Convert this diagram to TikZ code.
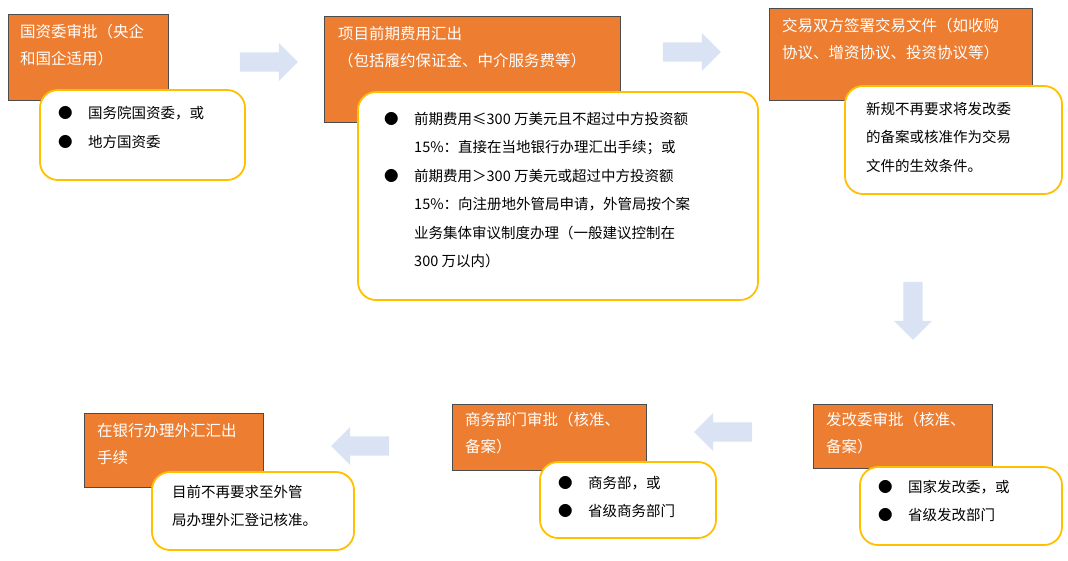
\documentclass[tikz,border=0pt]{standalone}
\usepackage{fontspec}
\setmainfont{Noto Sans CJK SC}
\usetikzlibrary{shapes.arrows}
\definecolor{org}{HTML}{ED7D31}
\definecolor{ylw}{HTML}{FFC000}
\definecolor{arw}{HTML}{DAE3F3}
\begin{document}
\begin{tikzpicture}[x=1pt,y=-1pt,
 obox/.style={draw=black!70,line width=0.6pt,fill=org},
 ybox/.style={draw=ylw,line width=1.8pt,rounded corners=18pt,fill=white},
 otext/.style={anchor=north west,text=white,font=\fontsize{15.5}{27}\selectfont,align=left,inner sep=0},
 ytext/.style={anchor=north west,font=\fontsize{14.5}{28.5}\selectfont,align=left,inner sep=0},
 barrow/.style={single arrow,fill=arw,draw=none,minimum height=58pt,minimum width=38pt,single arrow head extend=5pt,inner sep=5pt}]
\useasboundingbox (0,0) rectangle (1068,560);
\newcommand{\bl}{\makebox[30pt][l]{●}}
% box 1
\draw[obox] (8,14) rectangle (168,100);
\node[otext] (t1) at (20,24) {国资委审批（央企\\和国企适用）};
\draw[ybox] (40,90) rectangle (245,180);
\node[ytext] (y1) at (58,106) {\bl 国务院国资委，或\\\bl 地方国资委};
% box 2
\draw[obox] (324,16) rectangle (620,122);
\node[otext] (t2) at (338,26) {项目前期费用汇出\\（包括履约保证金、中介服务费等）};
\draw[ybox] (358,92) rectangle (758,300);
\node[ytext] (y2) at (384,112) {\bl 前期费用≤300 万美元且不超过中方投资额\\\hspace{30pt}15\%：直接在当地银行办理汇出手续；或\\\bl 前期费用＞300 万美元或超过中方投资额\\\hspace{30pt}15\%：向注册地外管局申请，外管局按个案\\\hspace{30pt}业务集体审议制度办理（一般建议控制在\\\hspace{30pt}300 万以内）};
% box 3
\draw[obox] (769,8) rectangle (1032,100);
\node[otext] (t3) at (782,18) {交易双方签署交易文件（如收购\\协议、增资协议、投资协议等）};
\draw[ybox] (845,86) rectangle (1062,194);
\node[ytext] (y3) at (866,102) {新规不再要求将发改委\\的备案或核准作为交易\\文件的生效条件。};
% box 4
\draw[obox] (813,404) rectangle (992,468);
\node[otext] (t4) at (826,412) {发改委审批（核准、\\备案）};
\draw[ybox] (860,467) rectangle (1062,545);
\node[ytext] (y4) at (878,480) {\bl 国家发改委，或\\\bl 省级发改部门};
% box 5
\draw[obox] (452,404) rectangle (646,470);
\node[otext] (t5) at (465,412) {商务部门审批（核准、\\备案）};
\draw[ybox] (540,462) rectangle (716,538);
\node[ytext] (y5) at (558,476) {\bl 商务部，或\\\bl 省级商务部门};
% box 6
\draw[obox] (84,413) rectangle (263,487);
\node[otext] (t6) at (97,423) {在银行办理外汇汇出\\手续};
\draw[ybox] (152,472) rectangle (354,550);
\node[ytext] (y6) at (172,485) {目前不再要求至外管\\局办理外汇登记核准。};
% arrows
\node[barrow] (a1) at (264,62) {};
\node[barrow] (a2) at (687,52) {};
\node[barrow,shape border rotate=270] (a3) at (913,306) {};
\node[barrow,shape border rotate=180] (a4) at (728,432) {};
\node[barrow,shape border rotate=180] (a5) at (365,446) {};
\end{tikzpicture}
\end{document}
